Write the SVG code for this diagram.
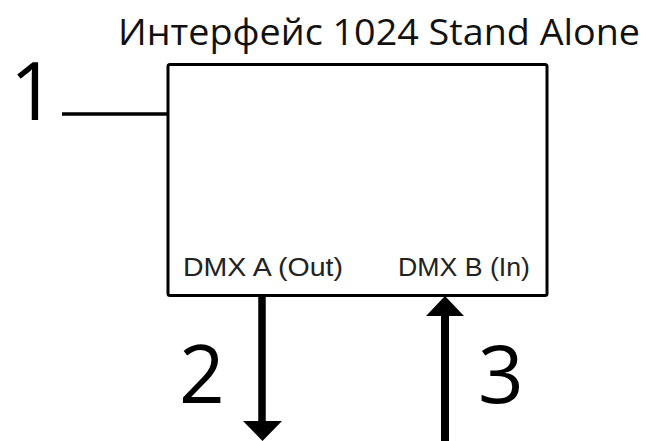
<svg xmlns="http://www.w3.org/2000/svg" width="646" height="441" viewBox="0 0 646 441">
<style>
.num{font-family:"Open Sans","DejaVu Sans",sans-serif;font-size:80px;fill:#000}
.lbl{font-family:"Liberation Sans",Arial,sans-serif;font-size:25px;fill:#222}
.title{font-family:"Open Sans","DejaVu Sans",sans-serif;font-size:36px;fill:#111}
.ln{stroke:#000;fill:none}
</style>
<rect width="646" height="441" fill="#fff"/>
<text class="title" x="118" y="45" textLength="522" lengthAdjust="spacingAndGlyphs">Интерфейс 1024 Stand Alone</text>
<g id="interface">
<rect x="168" y="64.5" width="379" height="231" rx="2" class="ln" stroke-width="3"/>
<text class="lbl" x="183" y="276" textLength="160" lengthAdjust="spacingAndGlyphs">DMX A (Out)</text>
<text class="lbl" x="398" y="276" textLength="132" lengthAdjust="spacingAndGlyphs">DMX B (In)</text>
</g>
<g id="label1"><text class="num" x="10" y="120">1</text></g>
<g id="label2"><text class="num" x="179" y="403">2</text></g>
<g id="label3"><text class="num" x="478" y="403">3</text></g>
<g id="connectors">
<line x1="62" y1="114" x2="168" y2="114" class="ln" stroke-width="3.5"/>
<line x1="262" y1="297" x2="262" y2="424" class="ln" stroke-width="7.5"/>
<polygon points="243,421 282,421 262.5,441" fill="#000"/>
<line x1="445" y1="441" x2="445" y2="313" class="ln" stroke-width="8"/>
<polygon points="426,316 464,316 445,296" fill="#000"/>
</g>
</svg>
